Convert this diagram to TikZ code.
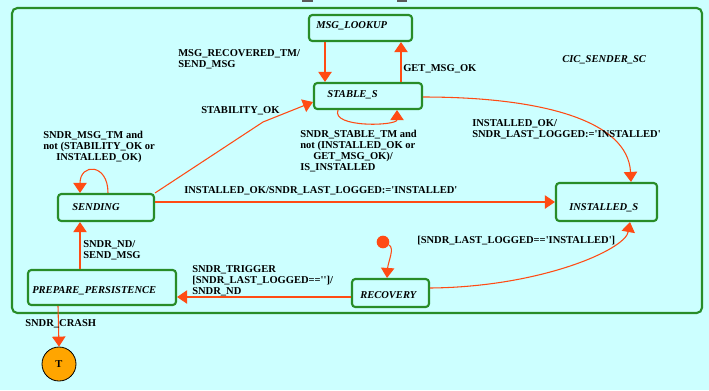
\documentclass[tikz,border=0pt]{standalone}
\usepackage{amsmath}
\usepackage{amssymb}
\usepackage{fontspec}
\setmainfont{Liberation Serif}
\usepackage{tikz}
\usetikzlibrary{arrows.meta}

\definecolor{bgcyan}{RGB}{204,255,255}
\definecolor{stgreen}{RGB}{40,140,40}
\definecolor{trred}{RGB}{255,75,20}
\definecolor{termorange}{RGB}{255,165,0}

\newcommand{\sq}{\textquotesingle}

\tikzset{
  state/.style 2 args={draw=stgreen, line width=1.6pt, rounded corners=2.5pt,
    minimum width=#1*0.75pt, minimum height=#2*0.75pt, inner sep=0pt},
  sname/.style={anchor=base west, inner sep=0pt, font=\bfseries\itshape\fontsize{7.9}{8.3}\selectfont},
  tlabel/.style={anchor=north west, inner sep=0pt, align=left, font=\bfseries\fontsize{7.9}{8.3}\selectfont},
  trans/.style={draw=trred, line width=0.8pt, -{Triangle[length=7.5pt,width=10pt]}}
}

\begin{document}
\begin{tikzpicture}[x=0.75pt,y=0.75pt,yscale=-1,xscale=1]
\useasboundingbox (0,0) rectangle (709,390);
\fill[bgcyan] (0,0) rectangle (709,390);
%title marks cut at the top
\fill[black!65] (302,0) rectangle (313,2);
\fill[black!65] (397,0) rectangle (407,2);

%Shape: Rectangle [outer state]
\draw[stgreen, line width=1.6pt, rounded corners=4pt] (12,8) rectangle (702,313);

%Shape: States
\node[state={103}{26}] (lookup) at (360.5,28) {};
\node[state={108}{26}] (stable) at (368,96) {};
\node[state={96}{27}] (sending) at (106,207.5) {};
\node[state={148}{35}] (prep) at (102,287.5) {};
\node[state={77}{28}] (recovery) at (390.5,293) {};
\node[state={101}{38}] (installed) at (606.5,202) {};
\node[circle, fill=trred, minimum size=9.5pt, inner sep=0pt] (init) at (383,242) {};
\node[circle, draw=black, line width=0.6pt, fill=termorange, minimum size=25.5pt, inner sep=0pt,
  font=\bfseries\fontsize{7.9}{8.3}\selectfont] (term) at (59,364) {T};

% State Names
\node[sname] (lookupT) at (316,28) {MSG\_LOOKUP};
\node[sname] (stableT) at (327,97) {STABLE\_S};
\node[sname] (sendingT) at (72,210) {SENDING};
\node[sname] (prepT) at (32,293) {PREPARE\_PERSISTENCE};
\node[sname] (recoveryT) at (360,298) {RECOVERY};
\node[sname] (installedT) at (569,210) {INSTALLED\_S};
\node[sname] (scT) at (562,62) {CIC\_SENDER\_SC};

%Straight Lines
\draw[trans] (325,0 |- lookup.south) -- (325,0 |- stable.north);
\draw[trans] (401,0 |- stable.north) -- (401,0 |- lookup.south);
\draw[trans] (sending.north east) -- (263,122) -- (stable.west |- 0,102);
\draw[trans] (sending.east |- 0,202) -- (installed.west |- 0,202);
\draw[trans] (recovery.west |- 0,297) -- (prep.east |- 0,297);
\draw[trans] (80,0 |- prep.north) -- (80,0 |- sending.south);
\draw[trans] (58,0 |- prep.south) -- (term.north);

%Curve Lines
\draw[trans] (338,0 |- stable.south) .. controls (331,128) and (397,126) .. (397,0 |- stable.south);
\draw[trans] (108,0 |- sending.north) .. controls (108,163) and (80,163) .. (80,0 |- sending.north);
\draw[trans] (stable.east |- 0,97) .. controls (540,97) and (628,120) .. (631,0 |- installed.north);
\draw[trans] (recovery.east |- 0,288) .. controls (540,287) and (625,250) .. (630,0 |- installed.south);
\draw[trans] (init) .. controls (395,248) and (388,262) .. (387,0 |- recovery.north);

% Text Node
\node[tlabel] (lblRecovered) at (178,49) {MSG\_RECOVERED\_TM/\\SEND\_MSG};
\node[tlabel] (lblGetMsg) at (403,64) {GET\_MSG\_OK};
\node[tlabel] (lblStability) at (201,106) {STABILITY\_OK};
\node[tlabel] (lblMsgTm) at (43,131) {SNDR\_MSG\_TM and\\not (STABILITY\_OK or\\\hspace{9.75pt}INSTALLED\_OK)};
\node[tlabel] (lblStableTm) at (300,130) {SNDR\_STABLE\_TM and\\not (INSTALLED\_OK or\\\hspace{9.75pt}GET\_MSG\_OK)/\\IS\_INSTALLED};
\node[tlabel] (lblInstOk) at (472,119) {INSTALLED\_OK/\\SNDR\_LAST\_LOGGED:=\sq INSTALLED\sq};
\node[tlabel] (lblInstOkSnd) at (184,186) {INSTALLED\_OK/SNDR\_LAST\_LOGGED:=\sq INSTALLED\sq};
\node[tlabel] (lblNd) at (83,240) {SNDR\_ND/\\SEND\_MSG};
\node[tlabel] (lblTrigger) at (192,265) {SNDR\_TRIGGER\\{}[SNDR\_LAST\_LOGGED==\sq\sq]/\\SNDR\_ND};
\node[tlabel] (lblLogged) at (417,236) {[SNDR\_LAST\_LOGGED==\sq INSTALLED\sq]};
\node[tlabel] (lblCrash) at (25,319) {SNDR\_CRASH};

\end{tikzpicture}
\end{document}
